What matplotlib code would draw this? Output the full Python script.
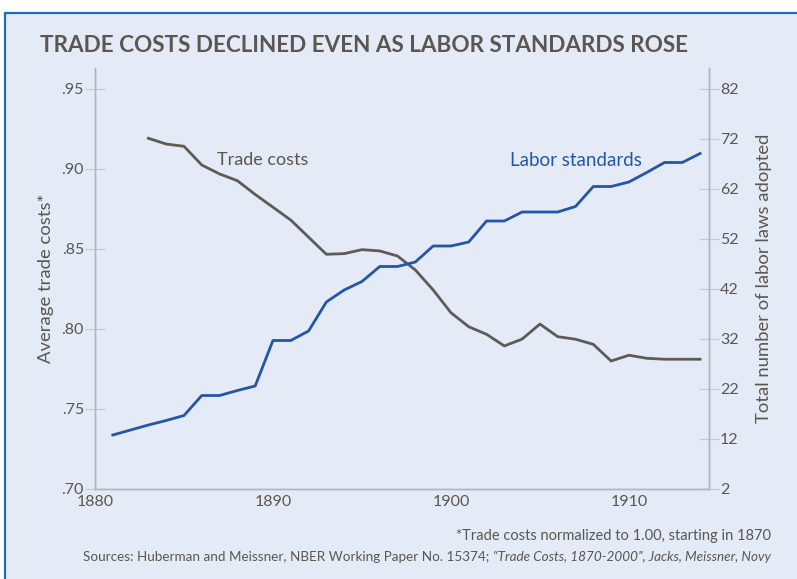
import matplotlib.pyplot as plt
from matplotlib.patches import Rectangle

# Donnees
trade_years = list(range(1883, 1915))
trade_costs = [.9192, .9156, .9142, .9025, .8969, .8927, .8841, .8761, .8681, .8574,
               .8467, .8471, .8496, .8488, .8456, .8369, .8244, .8102, .8014, .7967,
               .7894, .7937, .8031, .7952, .7936, .7904, .7800, .7836, .7817, .7811,
               .7811, .7811]

labor_years = list(range(1881, 1915))
labor_laws = [12.8, 13.8, 14.8, 15.7, 16.7, 20.7, 20.7, 21.7, 22.6, 31.7,
              31.7, 33.6, 39.4, 41.8, 43.5, 46.5, 46.5, 47.4, 50.6, 50.6,
              51.4, 55.6, 55.6, 57.4, 57.4, 57.4, 58.5, 62.5, 62.5, 63.4,
              65.3, 67.3, 67.3, 69.1]

left_ticks = [.70, .75, .80, .85, .90, .95]
right_ticks = [2, 12, 22, 32, 42, 52, 62, 72, 82]
x_ticks = [1880, 1890, 1900, 1910]

plt.rcParams['font.family'] = ['Lato', 'DejaVu Sans']
txt = '#5b5651'
gray_line = '#605a56'
blue = '#2456a8'
panel = '#e4eaf6'
axis_gray = '#b4b4b8'

fig = plt.figure(figsize=(7.97, 5.79), dpi=100)
fig.patch.set_facecolor('white')

# fond bleu clair avec bordure
fig.patches.append(Rectangle((5 / 797, -0.05), 1.1, (579 - 13) / 579 + 0.05,
                             transform=fig.transFigure, facecolor=panel,
                             edgecolor='#1b6cc0', linewidth=1.6, zorder=-10))

ax = fig.add_axes([95 / 797, 90 / 579, 614 / 797, 421 / 579])
ax.set_facecolor('none')
ax2 = ax.twinx()

ax.plot(trade_years, trade_costs, color=gray_line, linewidth=2.0, zorder=3)
ax2.plot(labor_years, labor_laws, color=blue, linewidth=2.0, zorder=2)

ax.set_xlim(1880.3, 1914.5)
ax.set_ylim(0.70, 0.70 + 421 / 1600)
ax2.set_ylim(2, 2 + 421 / 5)

ax.set_yticks(left_ticks)
ax.set_yticklabels(['.' + f'{v:.2f}'.split('.')[1] for v in left_ticks])
ax2.set_yticks(right_ticks)
ax.set_xticks(x_ticks)

for a in (ax, ax2):
    for s in a.spines.values():
        s.set_color(axis_gray)
        s.set_linewidth(1.0)
    a.spines['top'].set_visible(False)
    a.tick_params(axis='y', direction='inout', length=14, width=0.8,
                  color='#c8c8cc', labelsize=11.5, labelcolor=txt, pad=1)
ax.tick_params(axis='x', length=0, labelsize=11.5, labelcolor=txt, pad=4)

ax.set_ylabel('Average trade costs*', fontsize=13.3, color=txt, labelpad=5)
ax2.set_ylabel('Total number of labor laws adopted', fontsize=13.3, color=txt, labelpad=12)

ax.text(1889.4, 0.9056, 'Trade costs', fontsize=13, color=txt, ha='center', va='center')
ax2.text(1907.0, 67.8, 'Labor standards', fontsize=13.5, color=blue, ha='center', va='center')

fig.text(40 / 797, 1 - 45 / 579, 'TRADE COSTS DECLINED EVEN AS LABOR STANDARDS ROSE',
         fontstretch='condensed', fontweight='bold',
         fontsize=16.2, color=txt, ha='left', va='center')

fig.text(771 / 797, 1 - 536 / 579, '*Trade costs normalized to 1.00, starting in 1870',
         fontsize=10.5, color=txt, ha='right', va='center')

# ligne des sources : partie normale + partie italique
renderer = fig.canvas.get_renderer()
ital = fig.text(771 / 797, 1 - 557 / 579, '\u201cTrade Costs, 1870-2000\u201d, Jacks, Meissner, Novy',
                fontsize=9.75, style='italic', color=txt, ha='right', va='center')
bb = ital.get_window_extent(renderer)
fig.text(bb.x0 / fig.bbox.width, 1 - 557 / 579,
         'Sources: Huberman and Meissner, NBER Working Paper No. 15374; ',
         fontsize=9.75, color=txt, ha='right', va='center')

fig.savefig('out.png', dpi=100, facecolor=fig.get_facecolor())
